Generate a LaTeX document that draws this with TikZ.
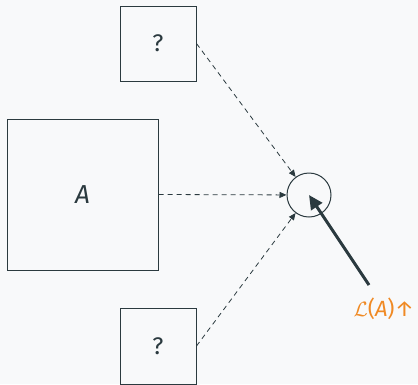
\documentclass[tikz,border=0pt]{standalone}
\usepackage{fontspec}
\setmainfont{Fira Sans}
\usetikzlibrary{arrows.meta}
\definecolor{bgc}{HTML}{F8F9FA}
\definecolor{ink}{HTML}{2B3A3F}
\definecolor{hot}{HTML}{F08A24}
\begin{document}
\begin{tikzpicture}[x=1pt,y=-1pt,
  box/.style={draw=ink,line width=1pt,inner sep=0pt,text=ink},
  feed/.style={draw=ink,line width=0.8pt,dashed,dash pattern=on 5pt off 4pt,-{Triangle[length=7pt,width=6pt]}},
  push/.style={draw=ink,line width=3pt,-{Triangle[length=14pt,width=13pt]}}]
\fill[bgc] (0,0) rectangle (418,384);
\useasboundingbox (0,0) rectangle (418,384);
\node[box,minimum width=76pt,minimum height=75pt,font=\fontsize{24}{28}\selectfont] (q1) at (158,43.5) {?};
\node[box,minimum width=151pt,minimum height=151pt,font=\fontsize{26}{30}\selectfont\itshape] (a) at (82.5,194.5) {A};
\node[box,minimum width=76pt,minimum height=76pt,font=\fontsize{24}{28}\selectfont] (q2) at (158,346) {?};
\node[draw=ink,line width=1pt,circle,minimum size=44pt,inner sep=0pt] (c) at (309,195) {};
\coordinate (s) at (369,285);
\node[text=hot,font=\fontsize{22}{26}\selectfont,anchor=center] (l) at (384,309) {$\mathcal{L}$(\textit{A})↑};
\draw[feed] (q1.east) -- (c);
\draw[feed] (a.east) -- (c);
\draw[feed] (q2.east) -- (c);
\draw[push] (s) -- (c.center);
\end{tikzpicture}
\end{document}
